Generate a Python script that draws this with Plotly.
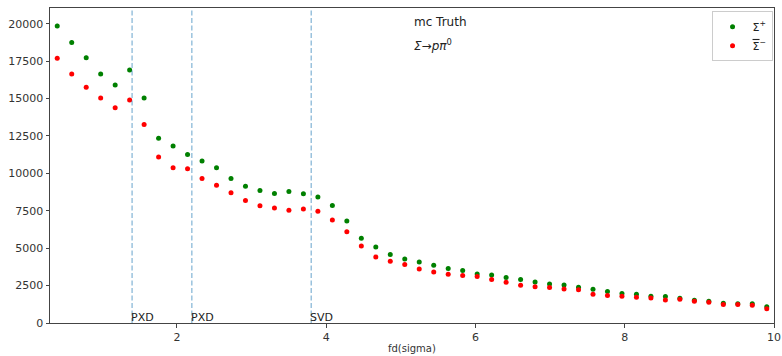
import numpy as np
import plotly.graph_objects as go

# bin centres of fd(sigma) histogram (50 bins between 0.3 and 10)
bin_edges = np.linspace(0.3, 10, 51)
fd = (bin_edges[:-1] + bin_edges[1:]) / 2

sigma_plus = [19850, 18750, 17730, 16640, 15900, 16900, 15030, 12340, 11820, 11260,
              10820, 10370, 9660, 9140, 8860, 8660, 8790, 8640, 8420, 7850,
              6820, 5670, 5080, 4580, 4280, 4080, 3860, 3640, 3500, 3280,
              3210, 3040, 2900, 2740, 2610, 2540, 2390, 2250, 2100, 1970,
              1920, 1790, 1770, 1650, 1520, 1450, 1320, 1280, 1280, 1080]

sigma_minus_bar = [17700, 16640, 15750, 15030, 14380, 14900, 13270, 11100, 10370, 10300,
                   9660, 9210, 8700, 8190, 7830, 7690, 7540, 7620, 7470, 6890,
                   6090, 5150, 4410, 4130, 3910, 3610, 3410, 3260, 3170, 3100,
                   2900, 2720, 2520, 2430, 2370, 2270, 2230, 1920, 1830, 1790,
                   1720, 1670, 1540, 1590, 1450, 1380, 1230, 1230, 1180, 960]

detector_lines = [1.4, 2.2, 3.8]
detector_labels = ["PXD", "PXD", "SVD"]

x_ticks = [2, 4, 6, 8, 10]
y_ticks = [0, 2500, 5000, 7500, 10000, 12500, 15000, 17500, 20000]
y_tick_text = [str(v) for v in y_ticks]

fig = go.Figure()
fig.add_trace(go.Scatter(
    x=fd, y=sigma_plus, mode="markers", name="Σ<sup>+</sup>",
    marker=dict(color="#008000", size=5),
    error_y=dict(type="data", array=np.sqrt(sigma_plus), color="#008000", thickness=1, width=0),
))
fig.add_trace(go.Scatter(
    x=fd, y=sigma_minus_bar, mode="markers",
    name="<span style='text-decoration:overline'>Σ</span><sup>−</sup>",
    marker=dict(color="#ff0000", size=5),
    error_y=dict(type="data", array=np.sqrt(sigma_minus_bar), color="#ff0000", thickness=1, width=0),
))

for xv, lab in zip(detector_lines, detector_labels):
    fig.add_vline(x=xv, line=dict(color="rgba(31,119,180,0.45)", width=1.5, dash="5px,2.5px"))
    fig.add_annotation(x=xv, y=0, xref="x", yref="y", text=lab, showarrow=False,
                       xanchor="left", yanchor="bottom", xshift=-3, yshift=-3,
                       font=dict(size=11, color="#222"))

fig.add_annotation(x=5.15, y=0.985, xref="x", yref="paper", text="mc Truth",
                   showarrow=False, xanchor="left", yanchor="top",
                   font=dict(size=12, color="#222"))
fig.add_annotation(x=5.15, y=0.915, xref="x", yref="paper", text="<i>Σ</i>→<i>pπ</i><sup>0</sup>",
                   showarrow=False, xanchor="left", yanchor="top",
                   font=dict(size=12, color="#222"))
# x-axis title
fig.add_annotation(x=0.5, y=0, xref="paper", yref="paper", text="fd(sigma)",
                   showarrow=False, xanchor="center", yanchor="middle", yshift=-25,
                   font=dict(size=10, color="#333"))

axis_common = dict(showgrid=False, zeroline=False, showline=True, linecolor="#444",
                   linewidth=1, mirror=True, ticks="outside", ticklen=3.5,
                   tickcolor="#444", tickfont=dict(size=11, color="#333"),
                   automargin=False, ticklabeloverflow="allow")

fig.update_layout(
    width=782, height=356,
    margin=dict(l=50, r=8, t=8, b=33),
    paper_bgcolor="white", plot_bgcolor="white",
    font=dict(family="DejaVu Sans", color="#333"),
    xaxis=dict(range=[0.3, 10], tickvals=x_ticks, **axis_common),
    yaxis=dict(range=[0, 21050], tickvals=y_ticks, ticktext=y_tick_text, **axis_common),
    legend=dict(x=0.998, y=0.99, xanchor="right", yanchor="top",
                bordercolor="#ccc", borderwidth=1, bgcolor="white",
                font=dict(size=11, color="#222"), itemwidth=30),
    showlegend=True,
)

fig.write_html("out.html", config={"displayModeBar": False},
               post_script="document.body.style.margin='0';document.body.style.overflow='hidden';")
